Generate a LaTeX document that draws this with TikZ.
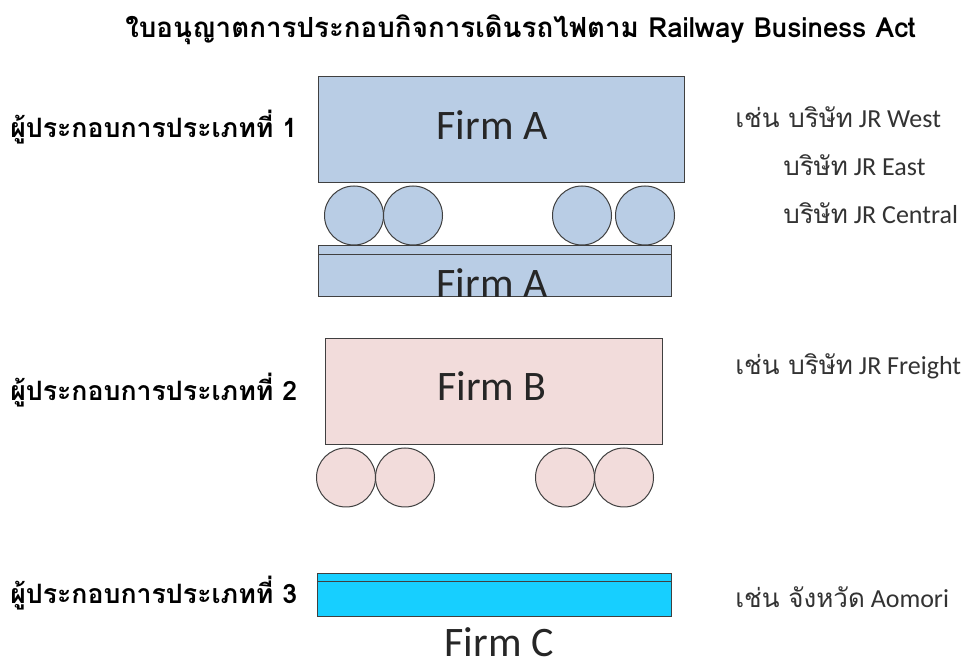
\documentclass[tikz,border=0pt]{standalone}
\usepackage{fontspec}
\setmainfont{Carlito}
\newfontfamily\thaifont[Script=Thai]{Loma}
\newfontfamily\latfont{Carlito}
\begin{document}
\begin{tikzpicture}[x=0.75pt,y=-0.75pt,
  edge/.style={draw=black!75,line width=0.75pt},
  carA/.style={edge,fill=bodyA},
  carB/.style={edge,fill=bodyB},
  trackC/.style={edge,fill=bodyC},
  firm/.style={font=\latfont\fontsize{31.5}{36}\selectfont,anchor=base,inner sep=0pt,text=black!85},
  kind/.style={font=\thaifont\bfseries\fontsize{20}{24}\selectfont,anchor=base west,inner sep=0pt},
  example/.style={font=\fontsize{19.5}{23}\selectfont,anchor=base west,inner sep=0pt,text=black!80},
  title/.style={font=\thaifont\bfseries\fontsize{20.8}{25}\selectfont,anchor=base west,inner sep=0pt}]
\definecolor{bodyA}{HTML}{B9CDE5}
\definecolor{bodyB}{HTML}{F2DCDB}
\definecolor{bodyC}{HTML}{17CFFF}
\useasboundingbox[fill=white] (0,0) rectangle (965,666);

% heading
\node[title] (head) at (125,38) {ใบอนุญาตการประกอบกิจการเดินรถไฟตาม Railway Business Act};

% operator type 1: train and its own track
\draw[carA] (318,77) rectangle (684,183);
\foreach \cx in {354,413,582,645}
  \draw[carA] (\cx,215.5) circle (29.5);
\draw[carA] (318,246) rectangle (671,297);
\draw[edge] (318,255) -- (671,255);
\node[firm] (fa1) at (492,140) {Firm A};
\node[firm] (fa2) at (492,298) {Firm A};

% operator type 2: train only
\draw[carB] (325,339) rectangle (662,445);
\foreach \cx in {346,405,565,624}
  \draw[carB] (\cx,477.5) circle (29.5);
\node[firm] (fb) at (492,401) {Firm B};

% operator type 3: track only
\draw[trackC] (317,574) rectangle (671,617);
\draw[edge] (317,582) -- (671,582);
\node[firm] (fc) at (499,657) {Firm C};

% operator labels
\node[kind] (k1) at (10,138) {ผู้ประกอบการประเภทที่ 1};
\node[kind] (k2) at (10,401) {ผู้ประกอบการประเภทที่ 2};
\node[kind] (k3) at (10,604) {ผู้ประกอบการประเภทที่ 3};

% examples
\node[example] (e1) at (735,128) {{\thaifont เช่น บริษัท} JR West};
\node[example] (e2) at (783,176) {{\thaifont บริษัท} JR East};
\node[example] (e3) at (783,224) {{\thaifont บริษัท} JR Central};
\node[example] (e4) at (735,375) {{\thaifont เช่น บริษัท} JR Freight};
\node[example] (e5) at (735,608) {{\thaifont เช่น จังหวัด} Aomori};
\end{tikzpicture}
\end{document}
